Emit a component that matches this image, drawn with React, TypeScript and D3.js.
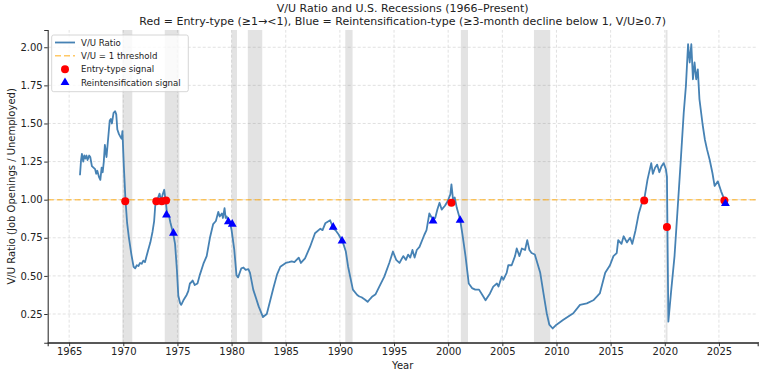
import React, { useEffect, useRef } from "react";
import * as d3 from "d3";

const W = 759;
const H = 374;
const margin = { top: 30, right: 1.3, bottom: 31.3, left: 47.7 };

// V/U ratio (decimal year / ratio)
const obsYears = [
  1966.0, 1966.1, 1966.18, 1966.3, 1966.4, 1966.5, 1966.6, 1966.7, 1966.85, 1966.95,
  1967.1, 1967.25, 1967.4, 1967.5, 1967.6, 1967.75, 1967.88, 1968.0, 1968.1, 1968.2,
  1968.3, 1968.45, 1968.6, 1968.75, 1968.85, 1968.95, 1969.1, 1969.25, 1969.35, 1969.45,
  1969.6, 1969.75, 1969.85, 1969.92, 1970.05, 1970.2, 1970.35, 1970.5, 1970.75, 1970.95,
  1971.1, 1971.25, 1971.4, 1971.55, 1971.7, 1971.85, 1972.0, 1972.15, 1972.3, 1972.5,
  1972.7, 1972.85, 1972.95, 1973.05, 1973.2, 1973.35, 1973.5, 1973.62, 1973.78, 1973.95,
  1974.05, 1974.2, 1974.35, 1974.6, 1974.78, 1974.95, 1975.08, 1975.25, 1975.35, 1975.55,
  1975.85, 1976.0, 1976.15, 1976.3, 1976.4, 1976.6, 1976.85, 1977.06, 1977.4, 1977.7,
  1978.0, 1978.3, 1978.55, 1978.77, 1978.9, 1979.1, 1979.2, 1979.35, 1979.45, 1979.55,
  1979.7, 1979.85, 1980.0, 1980.25, 1980.45, 1980.6, 1980.9, 1981.1, 1981.3, 1981.55,
  1981.7, 1982.0, 1982.5, 1982.9, 1983.25, 1983.86, 1984.2, 1984.5, 1985.0, 1985.3,
  1985.55, 1985.8, 1986.0, 1986.2, 1986.4, 1986.78, 1987.24, 1987.7, 1988.2, 1988.4,
  1988.65, 1989.1, 1989.4, 1989.6, 1989.9, 1990.3, 1990.55, 1990.76, 1991.2, 1991.6,
  1991.8, 1992.0, 1992.3, 1992.56, 1992.8, 1993.0, 1993.3, 1993.64, 1994.1, 1994.56,
  1994.9, 1995.2, 1995.5, 1995.85, 1996.1, 1996.3, 1996.5, 1996.7, 1996.9, 1997.1,
  1997.35, 1997.8, 1998.0, 1998.26, 1998.5, 1998.8, 1999.0, 1999.2, 1999.4, 1999.7,
  1999.95, 2000.2, 2000.3, 2000.45, 2000.6, 2000.8, 2001.1, 2001.3, 2001.6, 2001.9,
  2002.2, 2002.5, 2002.85, 2003.2, 2003.45, 2003.86, 2004.16, 2004.5, 2004.65, 2004.94,
  2005.1, 2005.4, 2005.55, 2005.86, 2006.17, 2006.33, 2006.58, 2006.8, 2007.1, 2007.3,
  2007.5, 2007.7, 2008.0, 2008.5, 2008.8, 2009.1, 2009.34, 2009.65, 2010.0, 2010.6,
  2011.55, 2012.17, 2012.8, 2013.4, 2014.0, 2014.5, 2014.94, 2015.26, 2015.56, 2015.7,
  2016.0, 2016.2, 2016.5, 2016.8, 2017.0, 2017.3, 2017.6, 2017.85, 2018.1, 2018.4,
  2018.75, 2018.9, 2019.1, 2019.3, 2019.5, 2019.7, 2019.9, 2020.1, 2020.2, 2020.33,
  2020.6, 2020.9, 2021.2, 2021.5, 2021.75, 2021.95, 2022.15, 2022.3, 2022.45, 2022.6,
  2022.75, 2022.9, 2023.05, 2023.2, 2023.5, 2023.7, 2023.9, 2024.15, 2024.4, 2024.6,
  2024.9, 2025.2, 2025.45, 2025.6,
];
const vuRatio = [
  1.16, 1.26, 1.30, 1.25, 1.29, 1.27, 1.29, 1.26, 1.29, 1.28,
  1.22, 1.21, 1.20, 1.17, 1.19, 1.15, 1.13, 1.21, 1.18, 1.25,
  1.36, 1.28, 1.40, 1.52, 1.53, 1.50, 1.57, 1.58, 1.56, 1.46,
  1.43, 1.41, 1.40, 1.45, 1.22, 1.00, 0.85, 0.76, 0.64, 0.56,
  0.55, 0.57, 0.565, 0.585, 0.58, 0.60, 0.59, 0.63, 0.67, 0.72,
  0.79, 0.86, 0.96, 1.00, 1.01, 1.04, 0.99, 1.03, 1.065, 0.97,
  0.90, 0.90, 0.85, 0.78, 0.71, 0.54, 0.37, 0.32, 0.31, 0.34,
  0.375, 0.40, 0.45, 0.46, 0.47, 0.44, 0.45, 0.505, 0.58, 0.63,
  0.75, 0.84, 0.86, 0.92, 0.89, 0.91, 0.88, 0.945, 0.88, 0.89,
  0.86, 0.85, 0.80, 0.67, 0.505, 0.49, 0.55, 0.555, 0.54, 0.545,
  0.52, 0.41, 0.30, 0.23, 0.25, 0.42, 0.51, 0.56, 0.585, 0.59,
  0.595, 0.59, 0.605, 0.62, 0.585, 0.615, 0.69, 0.78, 0.81, 0.80,
  0.845, 0.865, 0.81, 0.80, 0.77, 0.715, 0.66, 0.56, 0.41, 0.375,
  0.365, 0.36, 0.345, 0.33, 0.35, 0.365, 0.38, 0.43, 0.495, 0.585,
  0.66, 0.605, 0.585, 0.63, 0.605, 0.64, 0.62, 0.67, 0.62, 0.67,
  0.69, 0.77, 0.80, 0.91, 0.88, 0.88, 0.935, 0.98, 0.935, 0.96,
  0.99, 1.035, 1.10, 1.00, 1.015, 0.945, 0.87, 0.78, 0.63, 0.45,
  0.42, 0.41, 0.41, 0.37, 0.34, 0.385, 0.43, 0.45, 0.43, 0.495,
  0.475, 0.52, 0.57, 0.57, 0.63, 0.68, 0.63, 0.68, 0.67, 0.735,
  0.67, 0.65, 0.64, 0.52, 0.385, 0.255, 0.18, 0.155, 0.18, 0.21,
  0.255, 0.31, 0.32, 0.34, 0.385, 0.52, 0.57, 0.63, 0.65, 0.735,
  0.71, 0.76, 0.72, 0.75, 0.71, 0.80, 0.91, 0.97, 1.00, 1.13,
  1.24, 1.17, 1.21, 1.23, 1.18, 1.22, 1.24, 1.20, 1.15, 0.20,
  0.41, 0.63, 0.955, 1.285, 1.57, 1.745, 2.02, 1.90, 2.02, 1.79,
  1.90, 1.79, 1.855, 1.66, 1.49, 1.395, 1.33, 1.26, 1.175, 1.09,
  1.12, 1.055, 1.01, 0.97,
];

// NBER recessions
const recessionStart = [1969.92, 1973.83, 1980.0, 1981.5, 1990.5, 2001.17, 2007.92, 2020.08];
const recessionEnd = [1970.83, 1975.17, 1980.5, 1982.83, 1991.17, 2001.83, 2009.42, 2020.25];

// signals
const entryYears = [1970.18, 1973.05, 1973.55, 1973.95, 2000.3, 2018.1, 2020.2, 2025.5];
const entryValues = [0.99, 0.99, 0.99, 0.995, 0.98, 0.995, 0.82, 0.995];
const reintYears = [1973.99, 1974.63, 1979.7, 1980.06, 1989.38, 1990.2, 1998.6, 2001.1, 2025.6];
const reintValues = [0.9, 0.78, 0.855, 0.84, 0.82, 0.73, 0.86, 0.865, 0.975];

const yearTicks = [1965, 1970, 1975, 1980, 1985, 1990, 1995, 2000, 2005, 2010, 2015, 2020, 2025];
const ratioTicks = [0.25, 0.5, 0.75, 1.0, 1.25, 1.5, 1.75, 2.0];

const font = "DejaVu Sans, sans-serif";

export default function App() {
  const ref = useRef<SVGSVGElement | null>(null);

  useEffect(() => {
    if (ref.current == null) return;
    const svg = d3.select(ref.current);
    svg.selectAll("*").remove();

    const x0 = margin.left, x1 = W - margin.right;
    const y0 = H - margin.bottom, y1 = margin.top;

    const [xmin, xmax] = d3.extent(obsYears) as [number, number];
    const [vmin, vmax] = d3.extent(vuRatio) as [number, number];
    const xpad = (xmax - xmin) * 0.05, ypad = (vmax - vmin) * 0.05;

    const x = d3.scaleLinear().domain([xmin - xpad, xmax + xpad]).range([x0, x1]);
    const y = d3.scaleLinear().domain([vmin - ypad, vmax + ypad]).range([y0, y1]);

    // grid
    const grid = svg.append("g");
    grid.selectAll("line.gx").data(yearTicks).enter().append("line")
      .attr("x1", d => x(d)).attr("x2", d => x(d)).attr("y1", y0).attr("y2", y1)
      .attr("stroke", "#d4d4d4").attr("stroke-width", 0.7).attr("stroke-dasharray", "3,2");
    grid.selectAll("line.gy").data(ratioTicks).enter().append("line")
      .attr("x1", x0).attr("x2", x1).attr("y1", d => y(d)).attr("y2", d => y(d))
      .attr("stroke", "#d4d4d4").attr("stroke-width", 0.7).attr("stroke-dasharray", "3,2");

    // recession bands
    svg.append("g").selectAll("rect").data(recessionStart).enter().append("rect")
      .attr("x", d => x(d))
      .attr("width", (d, i) => x(recessionEnd[i]) - x(d))
      .attr("y", y1).attr("height", y0 - y1)
      .attr("fill", "#808080").attr("fill-opacity", 0.22);

    // threshold
    svg.append("line")
      .attr("x1", x0).attr("x2", x1).attr("y1", y(1)).attr("y2", y(1))
      .attr("stroke", "orange").attr("stroke-opacity", 0.6)
      .attr("stroke-width", 1.6).attr("stroke-dasharray", "6,3");

    // V/U line
    const line = d3.line<number>().x((d, i) => x(obsYears[i])).y(d => y(d));
    svg.append("path").datum(vuRatio)
      .attr("d", line).attr("fill", "none")
      .attr("stroke", "#4682b4").attr("stroke-width", 1.8).attr("stroke-linejoin", "round");

    // markers
    svg.append("g").selectAll("circle").data(entryValues).enter().append("circle")
      .attr("cx", (d, i) => x(entryYears[i])).attr("cy", d => y(d))
      .attr("r", 4).attr("fill", "red");
    const tri = d3.symbol().type(d3.symbolTriangle).size(34);
    svg.append("g").selectAll("path").data(reintValues).enter().append("path")
      .attr("d", tri)
      .attr("transform", (d, i) => `translate(${x(reintYears[i])},${y(d)})`)
      .attr("fill", "blue");

    // axes
    const ax = svg.append("g").attr("transform", `translate(0,${y0})`)
      .call(d3.axisBottom(x).tickValues(yearTicks).tickFormat(d3.format("d")).tickSize(3.5).tickPadding(2));
    ax.select(".domain").attr("stroke", "#333").attr("stroke-width", 1.1);
    ax.selectAll(".tick line").attr("stroke", "#333");
    ax.selectAll("text").attr("font-family", font).attr("font-size", 10).attr("fill", "#222");

    const ay = svg.append("g").attr("transform", `translate(${x0},0)`)
      .call(d3.axisLeft(y).tickValues(ratioTicks).tickFormat(d3.format(".2f")).tickSize(3.5).tickPadding(1.5));
    ay.select(".domain").attr("stroke", "#333").attr("stroke-width", 1.1);
    ay.selectAll(".tick line").attr("stroke", "#333");
    ay.selectAll("text").attr("font-family", font).attr("font-size", 10).attr("fill", "#222");

    // bottom spine runs to the edge of the picture
    svg.append("line").attr("x1", x0).attr("x2", W).attr("y1", y0).attr("y2", y0)
      .attr("stroke", "#333").attr("stroke-width", 1.1);

    // labels
    svg.append("text").text("Year")
      .attr("x", (x0 + x1) / 2).attr("y", 369).attr("text-anchor", "middle")
      .attr("font-family", font).attr("font-size", 10).attr("fill", "#222");
    svg.append("text").text("V/U Ratio (Job Openings / Unemployed)")
      .attr("transform", `translate(11.7,${(y0 + y1) / 2}) rotate(-90)`)
      .attr("text-anchor", "middle").attr("dominant-baseline", "central")
      .attr("font-family", font).attr("font-size", 10).attr("fill", "#222");

    // title
    svg.append("text").text("V/U Ratio and U.S. Recessions (1966\u2013Present)")
      .attr("x", (x0 + x1) / 2).attr("y", 8.3).attr("text-anchor", "middle")
      .attr("dominant-baseline", "central")
      .attr("font-family", font).attr("font-size", 11).attr("fill", "#222");
    svg.append("text").text("Red = Entry-type (\u22651\u2192<1), Blue = Reintensification-type (\u22653-month decline below 1, V/U\u22650.7)")
      .attr("x", (x0 + x1) / 2).attr("y", 21.7).attr("text-anchor", "middle")
      .attr("dominant-baseline", "central")
      .attr("font-family", font).attr("font-size", 11).attr("fill", "#222");

    // legend
    const lg = svg.append("g");
    lg.append("rect").attr("x", 51.7).attr("y", 35).attr("width", 136.6).attr("height", 56.7)
      .attr("rx", 2).attr("fill", "white").attr("fill-opacity", 0.8)
      .attr("stroke", "#ccc").attr("stroke-width", 0.8);
    const rows = [42.5, 55.8, 69.2, 82.5];
    const labels = ["V/U Ratio", "V/U = 1 threshold", "Entry-type signal", "Reintensification signal"];
    lg.append("line").attr("x1", 55).attr("x2", 75).attr("y1", rows[0]).attr("y2", rows[0])
      .attr("stroke", "#4682b4").attr("stroke-width", 1.8);
    lg.append("line").attr("x1", 55).attr("x2", 75).attr("y1", rows[1]).attr("y2", rows[1])
      .attr("stroke", "orange").attr("stroke-opacity", 0.6)
      .attr("stroke-width", 1.6).attr("stroke-dasharray", "6,3");
    lg.append("circle").attr("cx", 65).attr("cy", rows[2]).attr("r", 4).attr("fill", "red");
    lg.append("path").attr("d", tri).attr("transform", `translate(65,${rows[3]})`).attr("fill", "blue");
    lg.selectAll("text").data(labels).enter().append("text")
      .text(d => d)
      .attr("x", 81).attr("y", (d, i) => rows[i]).attr("dominant-baseline", "central")
      .attr("font-family", font).attr("font-size", 8.6).attr("fill", "#222");
  }, []);

  return (
    <div style={{ position: "absolute", left: 0, top: 0 }}>
      <svg ref={ref} width={W} height={H} style={{ display: "block", background: "white" }} />
    </div>
  );
}
